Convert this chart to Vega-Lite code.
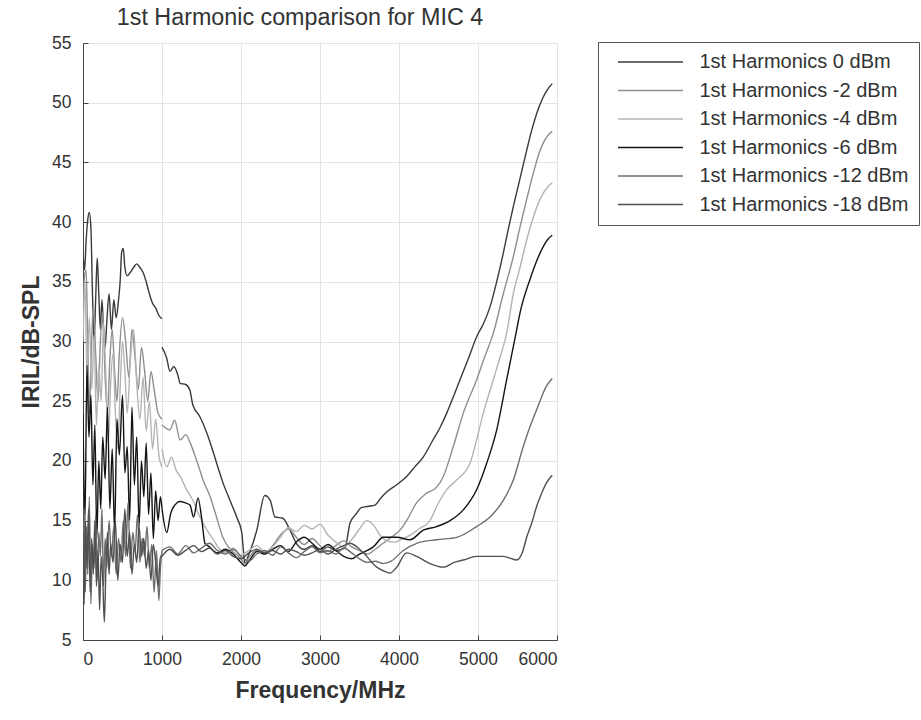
{
  "$schema": "https://vega.github.io/schema/vega-lite/v6.json",
  "width": 474,
  "height": 597,
  "padding": {"left": 83, "top": 43, "right": 364, "bottom": 80},
  "autosize": {"type": "none"},
  "background": "white",
  "title": {
    "text": "1st Harmonic comparison for MIC 4",
    "font": "Liberation Sans",
    "fontSize": 23.3,
    "fontWeight": "normal",
    "color": "#333333",
    "anchor": "middle",
    "frame": "group",
    "dx": -20,
    "offset": 4
  },
  "config": {
    "view": {"stroke": "#cfcfcf", "strokeWidth": 1},
    "axis": {
      "labelFont": "Liberation Sans",
      "labelFontSize": 17.5,
      "labelColor": "#333333",
      "titleFont": "Liberation Sans",
      "titleFontSize": 23,
      "titleFontWeight": "bold",
      "titleColor": "#333333",
      "domainColor": "#444444",
      "domainWidth": 1,
      "tickColor": "#444444",
      "gridColor": "#e3e3e3",
      "gridWidth": 1
    },
    "legend": {
      "labelFont": "Liberation Sans"
    }
  },
  "data": {
    "values": [
      {"s": "0", "g": "a", "f": 0, "v": 37.5}, {"s": "0", "g": "a", "f": 20, "v": 36}, {"s": "0", "g": "a", "f": 40, "v": 38.5}, {"s": "0", "g": "a", "f": 60, "v": 40.2}, {"s": "0", "g": "a", "f": 80, "v": 40.8}, {"s": "0", "g": "a", "f": 100, "v": 39.5}, {"s": "0", "g": "a", "f": 120, "v": 34}, {"s": "0", "g": "a", "f": 140, "v": 30}, {"s": "0", "g": "a", "f": 160, "v": 33.5}, {"s": "0", "g": "a", "f": 180, "v": 37}, {"s": "0", "g": "a", "f": 200, "v": 34}, {"s": "0", "g": "a", "f": 220, "v": 31}, {"s": "0", "g": "a", "f": 240, "v": 33.5}, {"s": "0", "g": "a", "f": 260, "v": 31}, {"s": "0", "g": "a", "f": 280, "v": 29.5}, {"s": "0", "g": "a", "f": 300, "v": 31.5}, {"s": "0", "g": "a", "f": 330, "v": 34}, {"s": "0", "g": "a", "f": 360, "v": 31}, {"s": "0", "g": "a", "f": 390, "v": 33.5}, {"s": "0", "g": "a", "f": 420, "v": 32}, {"s": "0", "g": "a", "f": 450, "v": 33.5}, {"s": "0", "g": "a", "f": 470, "v": 35}, {"s": "0", "g": "a", "f": 490, "v": 37.5}, {"s": "0", "g": "a", "f": 510, "v": 37.8}, {"s": "0", "g": "a", "f": 530, "v": 36.2}, {"s": "0", "g": "a", "f": 560, "v": 35.5}, {"s": "0", "g": "a", "f": 600, "v": 35.8}, {"s": "0", "g": "a", "f": 640, "v": 36.2}, {"s": "0", "g": "a", "f": 680, "v": 36.5}, {"s": "0", "g": "a", "f": 720, "v": 36.2}, {"s": "0", "g": "a", "f": 760, "v": 35.8}, {"s": "0", "g": "a", "f": 800, "v": 35}, {"s": "0", "g": "a", "f": 840, "v": 34}, {"s": "0", "g": "a", "f": 880, "v": 33.2}, {"s": "0", "g": "a", "f": 920, "v": 32.8}, {"s": "0", "g": "a", "f": 960, "v": 32.2}, {"s": "0", "g": "a", "f": 1000, "v": 31.9},
      {"s": "0", "g": "b", "f": 1000, "v": 29.5}, {"s": "0", "g": "b", "f": 1060, "v": 28.6}, {"s": "0", "g": "b", "f": 1100, "v": 27.5}, {"s": "0", "g": "b", "f": 1150, "v": 27.9}, {"s": "0", "g": "b", "f": 1200, "v": 27.2}, {"s": "0", "g": "b", "f": 1230, "v": 26.5}, {"s": "0", "g": "b", "f": 1300, "v": 26.4}, {"s": "0", "g": "b", "f": 1354, "v": 25.9}, {"s": "0", "g": "b", "f": 1390, "v": 24.7}, {"s": "0", "g": "b", "f": 1480, "v": 23.7}, {"s": "0", "g": "b", "f": 1570, "v": 22.3}, {"s": "0", "g": "b", "f": 1650, "v": 20.7}, {"s": "0", "g": "b", "f": 1730, "v": 19}, {"s": "0", "g": "b", "f": 1770, "v": 18.2}, {"s": "0", "g": "b", "f": 1860, "v": 16.7}, {"s": "0", "g": "b", "f": 1945, "v": 15.3}, {"s": "0", "g": "b", "f": 2010, "v": 14}, {"s": "0", "g": "b", "f": 2030, "v": 12.5}, {"s": "0", "g": "b", "f": 2050, "v": 11.4}, {"s": "0", "g": "b", "f": 2090, "v": 12}, {"s": "0", "g": "b", "f": 2200, "v": 14.2}, {"s": "0", "g": "b", "f": 2300, "v": 17.1}, {"s": "0", "g": "b", "f": 2370, "v": 16.7}, {"s": "0", "g": "b", "f": 2430, "v": 15.3}, {"s": "0", "g": "b", "f": 2530, "v": 15.2}, {"s": "0", "g": "b", "f": 2620, "v": 14.2}, {"s": "0", "g": "b", "f": 2700, "v": 13.1}, {"s": "0", "g": "b", "f": 2800, "v": 12.6}, {"s": "0", "g": "b", "f": 2900, "v": 12.9}, {"s": "0", "g": "b", "f": 3000, "v": 12.4}, {"s": "0", "g": "b", "f": 3100, "v": 12.8}, {"s": "0", "g": "b", "f": 3200, "v": 12.5}, {"s": "0", "g": "b", "f": 3316, "v": 12.7}, {"s": "0", "g": "b", "f": 3380, "v": 14.8}, {"s": "0", "g": "b", "f": 3450, "v": 15.5}, {"s": "0", "g": "b", "f": 3528, "v": 16.1}, {"s": "0", "g": "b", "f": 3610, "v": 16.2}, {"s": "0", "g": "b", "f": 3696, "v": 16.3}, {"s": "0", "g": "b", "f": 3770, "v": 16.9}, {"s": "0", "g": "b", "f": 3844, "v": 17.4}, {"s": "0", "g": "b", "f": 3971, "v": 18}, {"s": "0", "g": "b", "f": 4097, "v": 18.7}, {"s": "0", "g": "b", "f": 4200, "v": 19.5}, {"s": "0", "g": "b", "f": 4304, "v": 20.3}, {"s": "0", "g": "b", "f": 4430, "v": 21.75}, {"s": "0", "g": "b", "f": 4520, "v": 22.8}, {"s": "0", "g": "b", "f": 4604, "v": 24}, {"s": "0", "g": "b", "f": 4690, "v": 25.4}, {"s": "0", "g": "b", "f": 4772, "v": 26.8}, {"s": "0", "g": "b", "f": 4880, "v": 28.6}, {"s": "0", "g": "b", "f": 4983, "v": 30.4}, {"s": "0", "g": "b", "f": 5070, "v": 31.5}, {"s": "0", "g": "b", "f": 5152, "v": 32.9}, {"s": "0", "g": "b", "f": 5240, "v": 35.1}, {"s": "0", "g": "b", "f": 5320, "v": 37.4}, {"s": "0", "g": "b", "f": 5380, "v": 39.3}, {"s": "0", "g": "b", "f": 5447, "v": 41.3}, {"s": "0", "g": "b", "f": 5530, "v": 43.6}, {"s": "0", "g": "b", "f": 5616, "v": 46}, {"s": "0", "g": "b", "f": 5680, "v": 47.7}, {"s": "0", "g": "b", "f": 5743, "v": 49.1}, {"s": "0", "g": "b", "f": 5820, "v": 50.4}, {"s": "0", "g": "b", "f": 5890, "v": 51.2}, {"s": "0", "g": "b", "f": 5940, "v": 51.6},

      {"s": "-2", "g": "a", "f": 0, "v": 33}, {"s": "-2", "g": "a", "f": 20, "v": 35.5}, {"s": "-2", "g": "a", "f": 40, "v": 36}, {"s": "-2", "g": "a", "f": 60, "v": 30}, {"s": "-2", "g": "a", "f": 80, "v": 24}, {"s": "-2", "g": "a", "f": 100, "v": 28}, {"s": "-2", "g": "a", "f": 130, "v": 33}, {"s": "-2", "g": "a", "f": 160, "v": 29}, {"s": "-2", "g": "a", "f": 190, "v": 25}, {"s": "-2", "g": "a", "f": 220, "v": 30}, {"s": "-2", "g": "a", "f": 250, "v": 32.5}, {"s": "-2", "g": "a", "f": 280, "v": 27}, {"s": "-2", "g": "a", "f": 310, "v": 24}, {"s": "-2", "g": "a", "f": 340, "v": 28.5}, {"s": "-2", "g": "a", "f": 370, "v": 31}, {"s": "-2", "g": "a", "f": 400, "v": 27.5}, {"s": "-2", "g": "a", "f": 430, "v": 25}, {"s": "-2", "g": "a", "f": 460, "v": 29}, {"s": "-2", "g": "a", "f": 500, "v": 32}, {"s": "-2", "g": "a", "f": 540, "v": 30}, {"s": "-2", "g": "a", "f": 580, "v": 27}, {"s": "-2", "g": "a", "f": 620, "v": 31}, {"s": "-2", "g": "a", "f": 660, "v": 28.5}, {"s": "-2", "g": "a", "f": 700, "v": 26}, {"s": "-2", "g": "a", "f": 740, "v": 29.5}, {"s": "-2", "g": "a", "f": 780, "v": 27.5}, {"s": "-2", "g": "a", "f": 820, "v": 25}, {"s": "-2", "g": "a", "f": 860, "v": 27.5}, {"s": "-2", "g": "a", "f": 900, "v": 26}, {"s": "-2", "g": "a", "f": 950, "v": 24}, {"s": "-2", "g": "a", "f": 1000, "v": 23.5},
      {"s": "-2", "g": "b", "f": 1000, "v": 23}, {"s": "-2", "g": "b", "f": 1100, "v": 22.6}, {"s": "-2", "g": "b", "f": 1160, "v": 23.4}, {"s": "-2", "g": "b", "f": 1230, "v": 21.75}, {"s": "-2", "g": "b", "f": 1300, "v": 22.2}, {"s": "-2", "g": "b", "f": 1370, "v": 21.3}, {"s": "-2", "g": "b", "f": 1440, "v": 20}, {"s": "-2", "g": "b", "f": 1520, "v": 18.4}, {"s": "-2", "g": "b", "f": 1610, "v": 17}, {"s": "-2", "g": "b", "f": 1690, "v": 15.3}, {"s": "-2", "g": "b", "f": 1770, "v": 13.6}, {"s": "-2", "g": "b", "f": 1840, "v": 12.8}, {"s": "-2", "g": "b", "f": 1900, "v": 12.4}, {"s": "-2", "g": "b", "f": 2000, "v": 11.8}, {"s": "-2", "g": "b", "f": 2050, "v": 11.4}, {"s": "-2", "g": "b", "f": 2100, "v": 11.9}, {"s": "-2", "g": "b", "f": 2200, "v": 12.5}, {"s": "-2", "g": "b", "f": 2300, "v": 12.2}, {"s": "-2", "g": "b", "f": 2400, "v": 12.9}, {"s": "-2", "g": "b", "f": 2500, "v": 13.8}, {"s": "-2", "g": "b", "f": 2600, "v": 14.3}, {"s": "-2", "g": "b", "f": 2700, "v": 13.6}, {"s": "-2", "g": "b", "f": 2800, "v": 13}, {"s": "-2", "g": "b", "f": 2900, "v": 13.5}, {"s": "-2", "g": "b", "f": 3000, "v": 12.9}, {"s": "-2", "g": "b", "f": 3100, "v": 12.4}, {"s": "-2", "g": "b", "f": 3200, "v": 12.9}, {"s": "-2", "g": "b", "f": 3300, "v": 13.3}, {"s": "-2", "g": "b", "f": 3400, "v": 12.8}, {"s": "-2", "g": "b", "f": 3500, "v": 12.5}, {"s": "-2", "g": "b", "f": 3600, "v": 12.2}, {"s": "-2", "g": "b", "f": 3700, "v": 12.6}, {"s": "-2", "g": "b", "f": 3800, "v": 13.1}, {"s": "-2", "g": "b", "f": 3900, "v": 13.6}, {"s": "-2", "g": "b", "f": 4013, "v": 14.2}, {"s": "-2", "g": "b", "f": 4097, "v": 15}, {"s": "-2", "g": "b", "f": 4224, "v": 16.5}, {"s": "-2", "g": "b", "f": 4351, "v": 17.3}, {"s": "-2", "g": "b", "f": 4477, "v": 17.8}, {"s": "-2", "g": "b", "f": 4561, "v": 18.7}, {"s": "-2", "g": "b", "f": 4687, "v": 21.2}, {"s": "-2", "g": "b", "f": 4814, "v": 24}, {"s": "-2", "g": "b", "f": 4983, "v": 26.8}, {"s": "-2", "g": "b", "f": 5090, "v": 28.8}, {"s": "-2", "g": "b", "f": 5194, "v": 30.7}, {"s": "-2", "g": "b", "f": 5320, "v": 34}, {"s": "-2", "g": "b", "f": 5447, "v": 37.1}, {"s": "-2", "g": "b", "f": 5532, "v": 39.6}, {"s": "-2", "g": "b", "f": 5616, "v": 41.9}, {"s": "-2", "g": "b", "f": 5700, "v": 44.1}, {"s": "-2", "g": "b", "f": 5785, "v": 46}, {"s": "-2", "g": "b", "f": 5890, "v": 47.3}, {"s": "-2", "g": "b", "f": 5940, "v": 47.6},

      {"s": "-4", "g": "a", "f": 0, "v": 30}, {"s": "-4", "g": "a", "f": 25, "v": 35}, {"s": "-4", "g": "a", "f": 50, "v": 27}, {"s": "-4", "g": "a", "f": 80, "v": 32}, {"s": "-4", "g": "a", "f": 110, "v": 26}, {"s": "-4", "g": "a", "f": 140, "v": 30.5}, {"s": "-4", "g": "a", "f": 170, "v": 23}, {"s": "-4", "g": "a", "f": 200, "v": 28}, {"s": "-4", "g": "a", "f": 230, "v": 25}, {"s": "-4", "g": "a", "f": 260, "v": 31.5}, {"s": "-4", "g": "a", "f": 290, "v": 27}, {"s": "-4", "g": "a", "f": 320, "v": 21.5}, {"s": "-4", "g": "a", "f": 350, "v": 26.5}, {"s": "-4", "g": "a", "f": 380, "v": 29}, {"s": "-4", "g": "a", "f": 410, "v": 24}, {"s": "-4", "g": "a", "f": 440, "v": 21}, {"s": "-4", "g": "a", "f": 470, "v": 26}, {"s": "-4", "g": "a", "f": 500, "v": 30}, {"s": "-4", "g": "a", "f": 530, "v": 27.5}, {"s": "-4", "g": "a", "f": 560, "v": 24}, {"s": "-4", "g": "a", "f": 600, "v": 28.5}, {"s": "-4", "g": "a", "f": 640, "v": 31}, {"s": "-4", "g": "a", "f": 680, "v": 26.5}, {"s": "-4", "g": "a", "f": 720, "v": 23.5}, {"s": "-4", "g": "a", "f": 760, "v": 27}, {"s": "-4", "g": "a", "f": 800, "v": 22.5}, {"s": "-4", "g": "a", "f": 840, "v": 25}, {"s": "-4", "g": "a", "f": 880, "v": 21}, {"s": "-4", "g": "a", "f": 920, "v": 23.5}, {"s": "-4", "g": "a", "f": 960, "v": 20.5}, {"s": "-4", "g": "a", "f": 1000, "v": 19.5},
      {"s": "-4", "g": "b", "f": 1000, "v": 21}, {"s": "-4", "g": "b", "f": 1060, "v": 19.5}, {"s": "-4", "g": "b", "f": 1120, "v": 20.3}, {"s": "-4", "g": "b", "f": 1180, "v": 19.2}, {"s": "-4", "g": "b", "f": 1230, "v": 18.7}, {"s": "-4", "g": "b", "f": 1310, "v": 17.6}, {"s": "-4", "g": "b", "f": 1390, "v": 16.7}, {"s": "-4", "g": "b", "f": 1480, "v": 15.3}, {"s": "-4", "g": "b", "f": 1570, "v": 14.2}, {"s": "-4", "g": "b", "f": 1650, "v": 13.4}, {"s": "-4", "g": "b", "f": 1730, "v": 12.6}, {"s": "-4", "g": "b", "f": 1800, "v": 12.3}, {"s": "-4", "g": "b", "f": 1900, "v": 12.7}, {"s": "-4", "g": "b", "f": 2000, "v": 12.1}, {"s": "-4", "g": "b", "f": 2100, "v": 12.5}, {"s": "-4", "g": "b", "f": 2200, "v": 12.9}, {"s": "-4", "g": "b", "f": 2300, "v": 12.4}, {"s": "-4", "g": "b", "f": 2400, "v": 12.8}, {"s": "-4", "g": "b", "f": 2500, "v": 13.6}, {"s": "-4", "g": "b", "f": 2600, "v": 14.4}, {"s": "-4", "g": "b", "f": 2700, "v": 14.1}, {"s": "-4", "g": "b", "f": 2800, "v": 14.6}, {"s": "-4", "g": "b", "f": 2900, "v": 14.3}, {"s": "-4", "g": "b", "f": 3000, "v": 14.7}, {"s": "-4", "g": "b", "f": 3100, "v": 13.8}, {"s": "-4", "g": "b", "f": 3200, "v": 13.2}, {"s": "-4", "g": "b", "f": 3300, "v": 12.8}, {"s": "-4", "g": "b", "f": 3400, "v": 13.4}, {"s": "-4", "g": "b", "f": 3500, "v": 14.3}, {"s": "-4", "g": "b", "f": 3591, "v": 15}, {"s": "-4", "g": "b", "f": 3680, "v": 14.6}, {"s": "-4", "g": "b", "f": 3760, "v": 13.8}, {"s": "-4", "g": "b", "f": 3850, "v": 13.3}, {"s": "-4", "g": "b", "f": 3950, "v": 13.2}, {"s": "-4", "g": "b", "f": 4050, "v": 13.5}, {"s": "-4", "g": "b", "f": 4150, "v": 13.8}, {"s": "-4", "g": "b", "f": 4250, "v": 14.3}, {"s": "-4", "g": "b", "f": 4392, "v": 15}, {"s": "-4", "g": "b", "f": 4477, "v": 16.2}, {"s": "-4", "g": "b", "f": 4604, "v": 17.6}, {"s": "-4", "g": "b", "f": 4730, "v": 18.4}, {"s": "-4", "g": "b", "f": 4899, "v": 19.8}, {"s": "-4", "g": "b", "f": 4980, "v": 21.7}, {"s": "-4", "g": "b", "f": 5067, "v": 24}, {"s": "-4", "g": "b", "f": 5194, "v": 26.8}, {"s": "-4", "g": "b", "f": 5280, "v": 28.7}, {"s": "-4", "g": "b", "f": 5363, "v": 30.7}, {"s": "-4", "g": "b", "f": 5447, "v": 34}, {"s": "-4", "g": "b", "f": 5532, "v": 36.2}, {"s": "-4", "g": "b", "f": 5616, "v": 38.5}, {"s": "-4", "g": "b", "f": 5700, "v": 40.4}, {"s": "-4", "g": "b", "f": 5785, "v": 41.9}, {"s": "-4", "g": "b", "f": 5890, "v": 43}, {"s": "-4", "g": "b", "f": 5940, "v": 43.3},

      {"s": "-6", "g": "a", "f": 0, "v": 24}, {"s": "-6", "g": "a", "f": 25, "v": 15}, {"s": "-6", "g": "a", "f": 50, "v": 28}, {"s": "-6", "g": "a", "f": 75, "v": 22}, {"s": "-6", "g": "a", "f": 100, "v": 25.5}, {"s": "-6", "g": "a", "f": 125, "v": 18}, {"s": "-6", "g": "a", "f": 150, "v": 23}, {"s": "-6", "g": "a", "f": 175, "v": 13.5}, {"s": "-6", "g": "a", "f": 200, "v": 20}, {"s": "-6", "g": "a", "f": 225, "v": 16}, {"s": "-6", "g": "a", "f": 250, "v": 22}, {"s": "-6", "g": "a", "f": 280, "v": 18.5}, {"s": "-6", "g": "a", "f": 310, "v": 24.5}, {"s": "-6", "g": "a", "f": 340, "v": 16}, {"s": "-6", "g": "a", "f": 370, "v": 21}, {"s": "-6", "g": "a", "f": 400, "v": 14}, {"s": "-6", "g": "a", "f": 430, "v": 23.5}, {"s": "-6", "g": "a", "f": 460, "v": 20.5}, {"s": "-6", "g": "a", "f": 500, "v": 25.5}, {"s": "-6", "g": "a", "f": 530, "v": 19}, {"s": "-6", "g": "a", "f": 560, "v": 21.2}, {"s": "-6", "g": "a", "f": 590, "v": 15}, {"s": "-6", "g": "a", "f": 620, "v": 24.5}, {"s": "-6", "g": "a", "f": 650, "v": 18}, {"s": "-6", "g": "a", "f": 680, "v": 22}, {"s": "-6", "g": "a", "f": 710, "v": 14.5}, {"s": "-6", "g": "a", "f": 740, "v": 20}, {"s": "-6", "g": "a", "f": 770, "v": 17}, {"s": "-6", "g": "a", "f": 800, "v": 21.5}, {"s": "-6", "g": "a", "f": 830, "v": 15.5}, {"s": "-6", "g": "a", "f": 860, "v": 19}, {"s": "-6", "g": "a", "f": 890, "v": 13.5}, {"s": "-6", "g": "a", "f": 920, "v": 17.5}, {"s": "-6", "g": "a", "f": 950, "v": 15}, {"s": "-6", "g": "a", "f": 980, "v": 17}, {"s": "-6", "g": "a", "f": 1000, "v": 16},
      {"s": "-6", "g": "b", "f": 1000, "v": 16}, {"s": "-6", "g": "b", "f": 1060, "v": 14}, {"s": "-6", "g": "b", "f": 1110, "v": 15.6}, {"s": "-6", "g": "b", "f": 1190, "v": 16.5}, {"s": "-6", "g": "b", "f": 1228, "v": 16.6}, {"s": "-6", "g": "b", "f": 1290, "v": 16.5}, {"s": "-6", "g": "b", "f": 1354, "v": 16.3}, {"s": "-6", "g": "b", "f": 1400, "v": 15.3}, {"s": "-6", "g": "b", "f": 1456, "v": 16.9}, {"s": "-6", "g": "b", "f": 1500, "v": 15.3}, {"s": "-6", "g": "b", "f": 1544, "v": 13.1}, {"s": "-6", "g": "b", "f": 1600, "v": 12.8}, {"s": "-6", "g": "b", "f": 1700, "v": 12.3}, {"s": "-6", "g": "b", "f": 1800, "v": 12.6}, {"s": "-6", "g": "b", "f": 1900, "v": 12.2}, {"s": "-6", "g": "b", "f": 2000, "v": 11.5}, {"s": "-6", "g": "b", "f": 2050, "v": 11.2}, {"s": "-6", "g": "b", "f": 2100, "v": 11.6}, {"s": "-6", "g": "b", "f": 2200, "v": 12.4}, {"s": "-6", "g": "b", "f": 2300, "v": 12.2}, {"s": "-6", "g": "b", "f": 2400, "v": 12.6}, {"s": "-6", "g": "b", "f": 2500, "v": 12.9}, {"s": "-6", "g": "b", "f": 2600, "v": 12.4}, {"s": "-6", "g": "b", "f": 2700, "v": 13.2}, {"s": "-6", "g": "b", "f": 2800, "v": 13.6}, {"s": "-6", "g": "b", "f": 2900, "v": 13.1}, {"s": "-6", "g": "b", "f": 3000, "v": 12.6}, {"s": "-6", "g": "b", "f": 3100, "v": 13}, {"s": "-6", "g": "b", "f": 3200, "v": 12.5}, {"s": "-6", "g": "b", "f": 3300, "v": 12}, {"s": "-6", "g": "b", "f": 3400, "v": 11.8}, {"s": "-6", "g": "b", "f": 3500, "v": 12.2}, {"s": "-6", "g": "b", "f": 3600, "v": 12.5}, {"s": "-6", "g": "b", "f": 3675, "v": 12.8}, {"s": "-6", "g": "b", "f": 3801, "v": 13.6}, {"s": "-6", "g": "b", "f": 3971, "v": 13.6}, {"s": "-6", "g": "b", "f": 4139, "v": 13.4}, {"s": "-6", "g": "b", "f": 4308, "v": 14.2}, {"s": "-6", "g": "b", "f": 4477, "v": 14.5}, {"s": "-6", "g": "b", "f": 4646, "v": 15}, {"s": "-6", "g": "b", "f": 4814, "v": 15.9}, {"s": "-6", "g": "b", "f": 4984, "v": 17.6}, {"s": "-6", "g": "b", "f": 5110, "v": 19.8}, {"s": "-6", "g": "b", "f": 5237, "v": 22.6}, {"s": "-6", "g": "b", "f": 5363, "v": 26.8}, {"s": "-6", "g": "b", "f": 5490, "v": 31}, {"s": "-6", "g": "b", "f": 5532, "v": 32.4}, {"s": "-6", "g": "b", "f": 5658, "v": 35.2}, {"s": "-6", "g": "b", "f": 5785, "v": 37.4}, {"s": "-6", "g": "b", "f": 5890, "v": 38.6}, {"s": "-6", "g": "b", "f": 5940, "v": 38.9},

      {"s": "-12", "g": "a", "f": 0, "v": 12}, {"s": "-12", "g": "a", "f": 15, "v": 16}, {"s": "-12", "g": "a", "f": 30, "v": 9}, {"s": "-12", "g": "a", "f": 45, "v": 14.5}, {"s": "-12", "g": "a", "f": 60, "v": 10.5}, {"s": "-12", "g": "a", "f": 80, "v": 17}, {"s": "-12", "g": "a", "f": 100, "v": 8}, {"s": "-12", "g": "a", "f": 120, "v": 13}, {"s": "-12", "g": "a", "f": 140, "v": 11}, {"s": "-12", "g": "a", "f": 160, "v": 15.5}, {"s": "-12", "g": "a", "f": 180, "v": 10}, {"s": "-12", "g": "a", "f": 200, "v": 14}, {"s": "-12", "g": "a", "f": 220, "v": 12}, {"s": "-12", "g": "a", "f": 240, "v": 16}, {"s": "-12", "g": "a", "f": 260, "v": 9.5}, {"s": "-12", "g": "a", "f": 280, "v": 13.5}, {"s": "-12", "g": "a", "f": 300, "v": 11}, {"s": "-12", "g": "a", "f": 330, "v": 15}, {"s": "-12", "g": "a", "f": 360, "v": 12}, {"s": "-12", "g": "a", "f": 390, "v": 14.5}, {"s": "-12", "g": "a", "f": 420, "v": 10.5}, {"s": "-12", "g": "a", "f": 450, "v": 13.5}, {"s": "-12", "g": "a", "f": 480, "v": 11.5}, {"s": "-12", "g": "a", "f": 510, "v": 15}, {"s": "-12", "g": "a", "f": 540, "v": 12}, {"s": "-12", "g": "a", "f": 570, "v": 16.5}, {"s": "-12", "g": "a", "f": 600, "v": 11}, {"s": "-12", "g": "a", "f": 630, "v": 14}, {"s": "-12", "g": "a", "f": 660, "v": 12.5}, {"s": "-12", "g": "a", "f": 690, "v": 15.5}, {"s": "-12", "g": "a", "f": 720, "v": 11.5}, {"s": "-12", "g": "a", "f": 750, "v": 13.5}, {"s": "-12", "g": "a", "f": 780, "v": 12}, {"s": "-12", "g": "a", "f": 810, "v": 14.5}, {"s": "-12", "g": "a", "f": 840, "v": 11}, {"s": "-12", "g": "a", "f": 870, "v": 13}, {"s": "-12", "g": "a", "f": 900, "v": 9}, {"s": "-12", "g": "a", "f": 930, "v": 12.5}, {"s": "-12", "g": "a", "f": 960, "v": 8.3}, {"s": "-12", "g": "a", "f": 980, "v": 11}, {"s": "-12", "g": "a", "f": 1000, "v": 12.5},
      {"s": "-12", "g": "b", "f": 1000, "v": 12.5}, {"s": "-12", "g": "b", "f": 1100, "v": 12.8}, {"s": "-12", "g": "b", "f": 1200, "v": 12.2}, {"s": "-12", "g": "b", "f": 1300, "v": 12.9}, {"s": "-12", "g": "b", "f": 1400, "v": 12.3}, {"s": "-12", "g": "b", "f": 1500, "v": 12.7}, {"s": "-12", "g": "b", "f": 1600, "v": 13.1}, {"s": "-12", "g": "b", "f": 1700, "v": 12.5}, {"s": "-12", "g": "b", "f": 1800, "v": 12.2}, {"s": "-12", "g": "b", "f": 1900, "v": 12.6}, {"s": "-12", "g": "b", "f": 2000, "v": 12}, {"s": "-12", "g": "b", "f": 2100, "v": 11.6}, {"s": "-12", "g": "b", "f": 2200, "v": 12.2}, {"s": "-12", "g": "b", "f": 2300, "v": 12.5}, {"s": "-12", "g": "b", "f": 2400, "v": 12.1}, {"s": "-12", "g": "b", "f": 2500, "v": 12.8}, {"s": "-12", "g": "b", "f": 2600, "v": 12.3}, {"s": "-12", "g": "b", "f": 2700, "v": 11.9}, {"s": "-12", "g": "b", "f": 2800, "v": 12.4}, {"s": "-12", "g": "b", "f": 2900, "v": 12.8}, {"s": "-12", "g": "b", "f": 3000, "v": 12.3}, {"s": "-12", "g": "b", "f": 3100, "v": 12.5}, {"s": "-12", "g": "b", "f": 3200, "v": 12.2}, {"s": "-12", "g": "b", "f": 3300, "v": 12.7}, {"s": "-12", "g": "b", "f": 3400, "v": 12.3}, {"s": "-12", "g": "b", "f": 3500, "v": 11.8}, {"s": "-12", "g": "b", "f": 3600, "v": 11.5}, {"s": "-12", "g": "b", "f": 3700, "v": 11.6}, {"s": "-12", "g": "b", "f": 3800, "v": 11.4}, {"s": "-12", "g": "b", "f": 3900, "v": 11.6}, {"s": "-12", "g": "b", "f": 4054, "v": 12.5}, {"s": "-12", "g": "b", "f": 4224, "v": 13.1}, {"s": "-12", "g": "b", "f": 4477, "v": 13.4}, {"s": "-12", "g": "b", "f": 4730, "v": 13.6}, {"s": "-12", "g": "b", "f": 4983, "v": 14.5}, {"s": "-12", "g": "b", "f": 5152, "v": 15.3}, {"s": "-12", "g": "b", "f": 5320, "v": 16.7}, {"s": "-12", "g": "b", "f": 5447, "v": 18.4}, {"s": "-12", "g": "b", "f": 5573, "v": 21.2}, {"s": "-12", "g": "b", "f": 5660, "v": 22.9}, {"s": "-12", "g": "b", "f": 5743, "v": 24.3}, {"s": "-12", "g": "b", "f": 5870, "v": 26.3}, {"s": "-12", "g": "b", "f": 5940, "v": 26.9},

      {"s": "-18", "g": "a", "f": 0, "v": 14}, {"s": "-18", "g": "a", "f": 15, "v": 8}, {"s": "-18", "g": "a", "f": 30, "v": 15}, {"s": "-18", "g": "a", "f": 50, "v": 11}, {"s": "-18", "g": "a", "f": 70, "v": 16}, {"s": "-18", "g": "a", "f": 90, "v": 9}, {"s": "-18", "g": "a", "f": 110, "v": 13.5}, {"s": "-18", "g": "a", "f": 130, "v": 10.5}, {"s": "-18", "g": "a", "f": 150, "v": 15}, {"s": "-18", "g": "a", "f": 170, "v": 9.5}, {"s": "-18", "g": "a", "f": 190, "v": 12.5}, {"s": "-18", "g": "a", "f": 210, "v": 7.5}, {"s": "-18", "g": "a", "f": 230, "v": 12}, {"s": "-18", "g": "a", "f": 250, "v": 10}, {"s": "-18", "g": "a", "f": 270, "v": 6.5}, {"s": "-18", "g": "a", "f": 290, "v": 11}, {"s": "-18", "g": "a", "f": 310, "v": 14}, {"s": "-18", "g": "a", "f": 330, "v": 10.5}, {"s": "-18", "g": "a", "f": 350, "v": 13}, {"s": "-18", "g": "a", "f": 380, "v": 11.5}, {"s": "-18", "g": "a", "f": 410, "v": 15}, {"s": "-18", "g": "a", "f": 440, "v": 10}, {"s": "-18", "g": "a", "f": 470, "v": 13}, {"s": "-18", "g": "a", "f": 500, "v": 11.5}, {"s": "-18", "g": "a", "f": 530, "v": 16}, {"s": "-18", "g": "a", "f": 560, "v": 12}, {"s": "-18", "g": "a", "f": 590, "v": 14}, {"s": "-18", "g": "a", "f": 620, "v": 10.5}, {"s": "-18", "g": "a", "f": 650, "v": 13}, {"s": "-18", "g": "a", "f": 680, "v": 11.5}, {"s": "-18", "g": "a", "f": 710, "v": 14.5}, {"s": "-18", "g": "a", "f": 740, "v": 12}, {"s": "-18", "g": "a", "f": 770, "v": 13.5}, {"s": "-18", "g": "a", "f": 800, "v": 11}, {"s": "-18", "g": "a", "f": 830, "v": 12.5}, {"s": "-18", "g": "a", "f": 860, "v": 10}, {"s": "-18", "g": "a", "f": 890, "v": 13}, {"s": "-18", "g": "a", "f": 920, "v": 11.5}, {"s": "-18", "g": "a", "f": 950, "v": 9.5}, {"s": "-18", "g": "a", "f": 980, "v": 12}, {"s": "-18", "g": "a", "f": 1000, "v": 12},
      {"s": "-18", "g": "b", "f": 1000, "v": 12}, {"s": "-18", "g": "b", "f": 1100, "v": 12.6}, {"s": "-18", "g": "b", "f": 1200, "v": 12.1}, {"s": "-18", "g": "b", "f": 1300, "v": 12.5}, {"s": "-18", "g": "b", "f": 1400, "v": 12.9}, {"s": "-18", "g": "b", "f": 1500, "v": 12.4}, {"s": "-18", "g": "b", "f": 1600, "v": 12.7}, {"s": "-18", "g": "b", "f": 1700, "v": 12.2}, {"s": "-18", "g": "b", "f": 1800, "v": 12.5}, {"s": "-18", "g": "b", "f": 1900, "v": 12}, {"s": "-18", "g": "b", "f": 2000, "v": 11.8}, {"s": "-18", "g": "b", "f": 2100, "v": 12.3}, {"s": "-18", "g": "b", "f": 2200, "v": 12.6}, {"s": "-18", "g": "b", "f": 2300, "v": 12.3}, {"s": "-18", "g": "b", "f": 2400, "v": 12.5}, {"s": "-18", "g": "b", "f": 2500, "v": 12.2}, {"s": "-18", "g": "b", "f": 2600, "v": 12.6}, {"s": "-18", "g": "b", "f": 2700, "v": 12.4}, {"s": "-18", "g": "b", "f": 2800, "v": 12.1}, {"s": "-18", "g": "b", "f": 2900, "v": 12.3}, {"s": "-18", "g": "b", "f": 3000, "v": 12.6}, {"s": "-18", "g": "b", "f": 3100, "v": 12.2}, {"s": "-18", "g": "b", "f": 3200, "v": 12.6}, {"s": "-18", "g": "b", "f": 3300, "v": 12.9}, {"s": "-18", "g": "b", "f": 3380, "v": 13.1}, {"s": "-18", "g": "b", "f": 3549, "v": 12.3}, {"s": "-18", "g": "b", "f": 3718, "v": 11.1}, {"s": "-18", "g": "b", "f": 3800, "v": 10.8}, {"s": "-18", "g": "b", "f": 3886, "v": 10.6}, {"s": "-18", "g": "b", "f": 3971, "v": 11.1}, {"s": "-18", "g": "b", "f": 4097, "v": 12.3}, {"s": "-18", "g": "b", "f": 4224, "v": 12}, {"s": "-18", "g": "b", "f": 4392, "v": 11.4}, {"s": "-18", "g": "b", "f": 4561, "v": 11.1}, {"s": "-18", "g": "b", "f": 4700, "v": 11.5}, {"s": "-18", "g": "b", "f": 4814, "v": 11.7}, {"s": "-18", "g": "b", "f": 4983, "v": 12}, {"s": "-18", "g": "b", "f": 5152, "v": 12}, {"s": "-18", "g": "b", "f": 5320, "v": 12}, {"s": "-18", "g": "b", "f": 5490, "v": 11.7}, {"s": "-18", "g": "b", "f": 5560, "v": 12.3}, {"s": "-18", "g": "b", "f": 5616, "v": 13.6}, {"s": "-18", "g": "b", "f": 5680, "v": 14.8}, {"s": "-18", "g": "b", "f": 5743, "v": 16.2}, {"s": "-18", "g": "b", "f": 5800, "v": 17.2}, {"s": "-18", "g": "b", "f": 5870, "v": 18.2}, {"s": "-18", "g": "b", "f": 5940, "v": 18.8}
    ]
  },
  "mark": {"type": "line", "strokeWidth": 1.4, "interpolate": "monotone", "clip": true},
  "encoding": {
    "x": {
      "field": "f",
      "type": "quantitative",
      "scale": {"domain": [0, 6000], "nice": false},
      "axis": {
        "values": [0, 1000, 2000, 3000, 4000, 5000, 6000],
        "format": "d",
        "title": "Frequency/MHz",
        "titlePadding": 12,
        "labelPadding": 15,
        "tickSize": -5,
        "grid": true
      }
    },
    "y": {
      "field": "v",
      "type": "quantitative",
      "scale": {"domain": [5, 55], "nice": false, "zero": false},
      "axis": {
        "values": [5, 10, 15, 20, 25, 30, 35, 40, 45, 50, 55],
        "title": "IRIL/dB-SPL",
        "titlePadding": 8,
        "labelPadding": 17,
        "tickSize": -5,
        "grid": true
      }
    },
    "color": {
      "field": "s",
      "type": "nominal",
      "scale": {
        "domain": ["0", "-2", "-4", "-6", "-12", "-18"],
        "range": ["#3a3a3a", "#8e8e8e", "#b4b4b4", "#141414", "#6e6e6e", "#505050"]
      },
      "legend": {
        "title": null,
        "orient": "none",
        "legendX": 515,
        "legendY": -1,
        "labelExpr": "'1st Harmonics ' + datum.label + ' dBm'",
        "labelFontSize": 20,
        "labelLimit": 400,
        "labelColor": "#333333",
        "symbolType": "M0,0H10",
        "symbolStrokeWidth": 1.4,
        "symbolSize": 169,
        "rowPadding": 8.5,
        "labelOffset": 71.5,
        "padding": 10,
        "strokeColor": "#555555",
        "fillColor": "white"
      }
    },
    "detail": {"field": "g"},
    "order": {"field": "f", "type": "quantitative"}
  }
}
